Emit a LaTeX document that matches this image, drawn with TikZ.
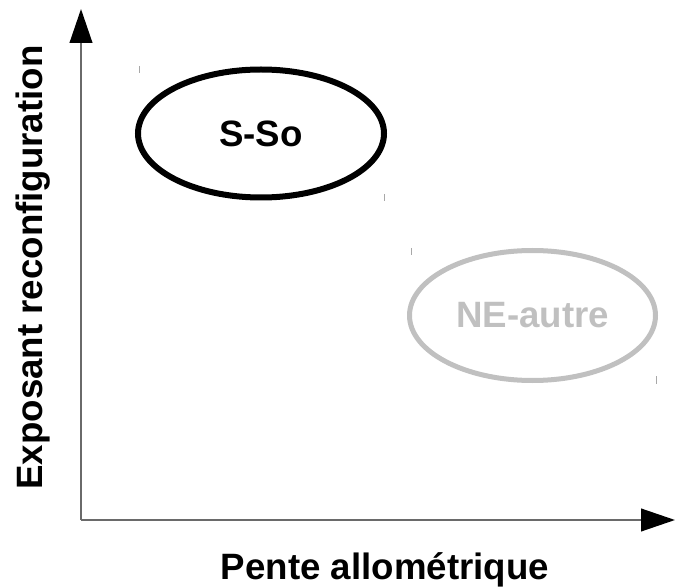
\documentclass[tikz,border=0pt]{standalone}
\usepackage{fontspec}
\setmainfont{Liberation Sans}
\usetikzlibrary{arrows.meta,shapes.geometric}

\definecolor{axisgray}{HTML}{6A6A6A}
\definecolor{ringgray}{HTML}{C0C0C0}
\definecolor{tickgray}{HTML}{A8A8A8}

\tikzset{
  bigtext/.style={font=\fontsize{27.5}{33}\selectfont\bfseries},
  axisline/.style={draw=axisgray, line width=1.5pt,
    -{Triangle[length=25.5pt, width=17pt, color=black]}},
  group/.style={ellipse, draw, bigtext, inner sep=0pt,
    minimum width=184.5pt, minimum height=96pt},
  tickmark/.style={draw=tickgray, line width=0.75pt}
}

\begin{document}
\begin{tikzpicture}[x=0.75pt, y=-0.75pt]
      \useasboundingbox (0,0) rectangle (675,588);

      % Axes
      \coordinate (origin) at (81,520);
      \coordinate (ytop) at (81,9);
      \coordinate (xend) at (675,520);
      \draw[axisline] (origin) -- (ytop);
      \draw[axisline] (origin) -- (xend);

      % Axis labels
      \node[bigtext, anchor=base] (xlabel) at (385,579) {Pente allométrique};
      \node[bigtext, anchor=base, rotate=90] (ylabel) at (42,267.5) {Exposant reconfiguration};

      % Groups
      \node[group, line width=4.5pt] (sso) at (261,133.5) {S-So};
      \node[group, draw=ringgray, text=ringgray, line width=3.75pt,
        minimum height=97.5pt] (neautre) at (532.5,315.5) {NE-autre};

      % Small marks at the corners of the groups
      \draw[tickmark] (139,66) -- (139,73);
      \draw[tickmark] (384,194) -- (384,201);
      \draw[tickmark] (411,248) -- (411,255);
      \draw[tickmark] (656,376) -- (656,384);
\end{tikzpicture}
\end{document}
